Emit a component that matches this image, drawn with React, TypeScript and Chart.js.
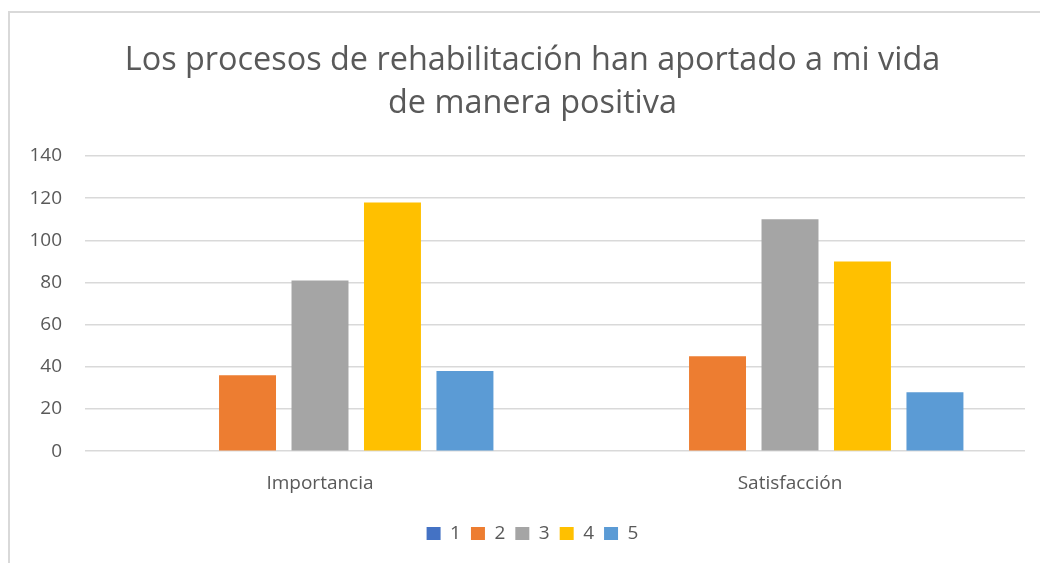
import React, { useEffect, useRef } from "react";
import { Chart, registerables } from "chart.js";

Chart.register(...registerables);

const categories = ["Importancia", "Satisfacción"];
const seriesNames = ["1", "2", "3", "4", "5"];
const series1 = [0, 0];
const series2 = [36, 45];
const series3 = [81, 110];
const series4 = [118, 90];
const series5 = [38, 28];
const colors = ["#4472C4", "#ED7D31", "#A5A5A5", "#FFC000", "#5B9BD5"];
const titleLines = ["Los procesos de rehabilitación han aportado a mi vida", "de manera positiva"];
const yMin = 0;
const yMax = 140;
const yStep = 20;

const FONT = "'Open Sans', 'Noto Sans', sans-serif";
const TEXT = "#595959";
const GRID = "#D9D9D9";
const TICK_SIZE = 19;

export default function App() {
  const ref = useRef<HTMLCanvasElement | null>(null);

  useEffect(() => {
    if (!ref.current) return;
    const values = [series1, series2, series3, series4, series5];

    // widest y label, so mirrored labels can be right-aligned next to the plot
    const mctx = document.createElement("canvas").getContext("2d")!;
    mctx.font = `normal ${TICK_SIZE}px ${FONT}`;
    const widest = Math.max(
      ...[0, 20, 40, 60, 80, 100, 120, 140].map((v) => mctx.measureText(String(v)).width)
    );

    const chart = new Chart(ref.current, {
      type: "bar",
      data: {
        labels: categories,
        datasets: seriesNames.map((name, i) => ({
          label: name,
          data: values[i],
          backgroundColor: colors[i],
          borderWidth: 0,
          categoryPercentage: 0.771,
          barPercentage: 0.786,
        })),
      },
      options: {
        animation: false,
        responsive: false,
        maintainAspectRatio: false,
        layout: { padding: { left: 30, right: 15, top: 0, bottom: 10 } },
        plugins: {
          title: {
            display: true,
            text: titleLines,
            color: TEXT,
            font: { family: FONT, size: 32.4, weight: "normal", lineHeight: 1.327 },
            padding: { top: 26, bottom: 31 },
          },
          legend: {
            position: "bottom",
            labels: {
              color: TEXT,
              font: { family: FONT, size: TICK_SIZE },
              boxWidth: 14,
              boxHeight: 13,
              padding: 10,
            },
          },
          tooltip: { enabled: false },
        },
        scales: {
          x: {
            grid: { display: false },
            border: { display: false },
            ticks: { color: TEXT, font: { family: FONT, size: TICK_SIZE }, padding: 13 },
            afterFit: (scale: any) => {
              scale.height += 6;
            },
          },
          y: {
            min: yMin,
            max: yMax,
            ticks: {
              stepSize: yStep,
              color: TEXT,
              font: { family: FONT, size: TICK_SIZE },
              mirror: true,
              crossAlign: "far",
              padding: -23 - widest,
            },
            grid: { color: GRID, lineWidth: 1.5, drawTicks: false },
            border: { display: false },
            afterFit: (scale: any) => {
              scale.width = 45;
            },
          },
        },
      },
    });
    return () => chart.destroy();
  }, []);

  return (
    <div
      style={{
        position: "absolute",
        left: 8,
        top: 11,
        width: 1030,
        height: 550,
        borderLeft: `2px solid ${GRID}`,
        borderTop: `2px solid ${GRID}`,
        background: "#fff",
      }}
    >
      <canvas ref={ref} width={1030} height={550} style={{ display: "block" }} />
    </div>
  );
}
